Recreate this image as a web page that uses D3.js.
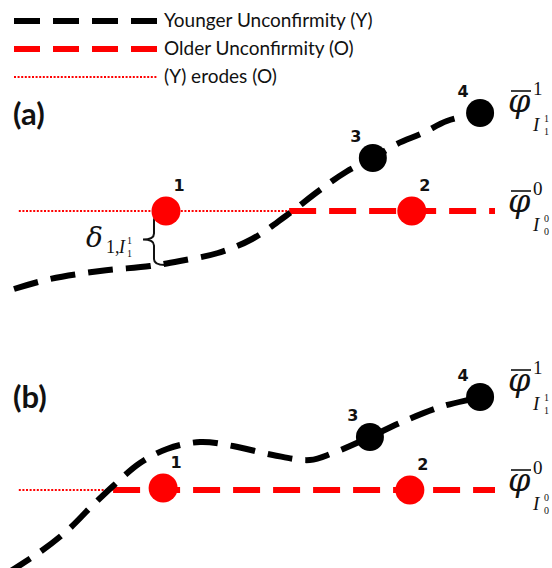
<!DOCTYPE html>
<html>
<head>
<meta charset="utf-8">
<script src="https://cdn.jsdelivr.net/npm/d3@7"></script>
<style>
  body { margin: 0; background: #fff; }
  svg { display: block; }
</style>
</head>
<body>
<figure style="margin:0"></figure>
<script>

var vmax = 552;
var hmax = 568;

// legend entries
var legendLabels = ["Younger Unconfirmity (Y)", "Older Unconfirmity (O)", "(Y) erodes (O)"];
var panelLabels = ["(a)", "(b)"];

// distance along the section (0-10) vs elevation relative to the older surface (O)
// panel (a)
var youngerA = [[0, -7.8], [0.75, -6.8], [1.79, -6.0], [2.83, -5.5], [3.45, -5.0], [4.24, -4.2],
                [4.95, -2.8], [5.65, -0.5], [6.36, 2.1], [6.90, 3.9], [7.46, 5.3], [7.96, 6.7],
                [8.50, 7.8], [9.00, 9.0], [9.69, 9.8], [9.94, 10.1]];
var erodedA = [0.1, 5.72];      // extent where (Y) cuts (O)
var olderA = [5.72, 10];
var olderPtsA = [{id: "1", x: 3.16, y: 0}, {id: "2", x: 8.27, y: 0}];
var youngerPtsA = [{id: "3", x: 7.46, y: 5.3}, {id: "4", x: 9.69, y: 9.8}];
var deltaDepth = -5.2;          // (Y) below point 1

// panel (b)
var youngerB = [[-0.1, -8.2], [0.54, -6.2], [1.12, -4.0], [1.58, -1.8], [2.06, 0.4], [2.62, 2.7],
                [3.18, 4.1], [3.87, 4.8], [4.55, 4.4], [5.38, 3.5], [6.15, 3.0], [6.63, 3.7],
                [7.40, 5.3], [8.02, 6.7], [8.86, 8.3], [9.69, 9.3], [9.94, 9.7]];
var erodedB = [0.1, 2.06];
var olderB = [2.06, 10];
var olderPtsB = [{id: "1", x: 3.10, y: 0.2}, {id: "2", x: 8.23, y: 0}];
var youngerPtsB = [{id: "3", x: 7.40, y: 5.3}, {id: "4", x: 9.69, y: 9.3}];

var svg = d3.select("figure").append("svg")
    .attr("width", vmax)
    .attr("height", hmax);

var x = d3.scaleLinear().domain([0, 10]).range([14, 495]);
var yA = d3.scaleLinear().domain([-10, 10]).range([311, 111]);
var yB = d3.scaleLinear().domain([-10, 10]).range([590, 390]);

var red = "#ff0000";
var ink = "#111";
var textFont = "Lato, 'Open Sans', sans-serif";
var mathFont = "'DejaVu Serif', 'Liberation Serif', serif";
var serif = "'Liberation Serif', serif";

// ---- legend
var legend = svg.append("g").attr("class", "legend");
var legendStyle = [
  {stroke: "#000", width: 6, dash: "26,13"},
  {stroke: red, width: 6, dash: "26,13"},
  {stroke: red, width: 2, dash: "2,1.6"}
];
var legendY = [21, 49, 77];
legendLabels.forEach(function(t, i) {
  legend.append("line")
      .attr("x1", 14).attr("x2", 157)
      .attr("y1", legendY[i]).attr("y2", legendY[i])
      .attr("stroke", legendStyle[i].stroke)
      .attr("stroke-width", legendStyle[i].width)
      .attr("stroke-dasharray", legendStyle[i].dash);
  legend.append("text")
      .attr("x", 164).attr("y", legendY[i] + 6)
      .attr("font-family", textFont)
      .attr("font-size", 19)
      .attr("fill", ink)
      .text(t);
});

var line = d3.line()
    .curve(d3.curveCatmullRom.alpha(0.5));

function drawPanel(g, y, label, labelY, younger, eroded, older, olderPts, youngerPts) {
  g.append("text")
      .attr("x", 13).attr("y", labelY)
      .attr("font-family", textFont)
      .attr("font-weight", "bold")
      .attr("font-size", 31)
      .attr("fill", ink)
      .text(label);

  // older unconformity: eroded (dotted) then preserved (dashed)
  g.append("line")
      .attr("x1", x(eroded[0])).attr("x2", x(eroded[1]))
      .attr("y1", y(0)).attr("y2", y(0))
      .attr("stroke", red).attr("stroke-width", 2)
      .attr("stroke-dasharray", "2,1.6");
  g.append("line")
      .attr("x1", x(older[0])).attr("x2", x(older[1]))
      .attr("y1", y(0)).attr("y2", y(0))
      .attr("stroke", red).attr("stroke-width", 6)
      .attr("stroke-dasharray", "27,13");

  // younger unconformity
  g.append("path")
      .attr("d", line(younger.map(function(d) { return [x(d[0]), y(d[1])]; })))
      .attr("fill", "none")
      .attr("stroke", "#000")
      .attr("stroke-width", 6)
      .attr("stroke-dasharray", "25,13");

  g.selectAll("circle.old")
      .data(olderPts).enter()
      .append("circle").attr("class", "old")
      .attr("cx", function(d) { return x(d.x); })
      .attr("cy", function(d) { return y(d.y); })
      .attr("r", 14.5)
      .attr("fill", red);
  g.selectAll("circle.young")
      .data(youngerPts).enter()
      .append("circle").attr("class", "young")
      .attr("cx", function(d) { return x(d.x); })
      .attr("cy", function(d) { return y(d.y); })
      .attr("r", 14)
      .attr("fill", "#000");

  // point numbers
  g.selectAll("text.oldlab")
      .data(olderPts).enter()
      .append("text").attr("class", "oldlab")
      .attr("x", function(d) { return x(d.x) + 13; })
      .attr("y", function(d) { return y(d.y) - 20; })
      .attr("text-anchor", "middle")
      .attr("font-family", "'DejaVu Sans', sans-serif")
      .attr("font-weight", "bold")
      .attr("font-size", 16)
      .attr("fill", ink)
      .text(function(d) { return d.id; });
  g.selectAll("text.younglab")
      .data(youngerPts).enter()
      .append("text").attr("class", "younglab")
      .attr("x", function(d) { return x(d.x) - 17; })
      .attr("y", function(d) { return y(d.y) - 16; })
      .attr("text-anchor", "middle")
      .attr("font-family", "'DejaVu Sans', sans-serif")
      .attr("font-weight", "bold")
      .attr("font-size", 16)
      .attr("fill", ink)
      .text(function(d) { return d.id; });

  // surface labels on the right
  phiLabel(g, 508, y(10) + 1, "1", "1");
  phiLabel(g, 508, y(0) + 1, "0", "0");
}

function phiLabel(g, x0, base, k, j) {
  g.append("line")
      .attr("x1", x0 + 3).attr("x2", x0 + 23)
      .attr("y1", base - 21).attr("y2", base - 21)
      .attr("stroke", ink).attr("stroke-width", 1.6);
  g.append("text")
      .attr("x", x0).attr("y", base)
      .attr("font-family", mathFont).attr("font-style", "italic")
      .attr("font-size", 32).attr("fill", ink)
      .text("\u03c6");
  g.append("text")
      .attr("x", x0 + 25).attr("y", base - 17)
      .attr("font-family", serif)
      .attr("font-size", 19).attr("fill", ink)
      .text(k);
  g.append("text")
      .attr("x", x0 + 25).attr("y", base + 19)
      .attr("font-family", serif).attr("font-style", "italic")
      .attr("font-size", 19).attr("fill", ink)
      .text("I");
  g.append("text")
      .attr("x", x0 + 36).attr("y", base + 10)
      .attr("font-family", serif)
      .attr("font-size", 10).attr("fill", ink)
      .text(j);
  g.append("text")
      .attr("x", x0 + 36).attr("y", base + 23)
      .attr("font-family", serif)
      .attr("font-size", 10).attr("fill", ink)
      .text(k);
}

// curly brace between (O) at point 1 and (Y) below it
function brace(bx, y1, y2, w) {
  var m = (y1 + y2) / 2, s = bx - w / 2, q = 6;
  return "M" + bx + "," + y1 +
    " Q" + s + "," + y1 + " " + s + "," + (y1 + q) +
    " L" + s + "," + (m - q) +
    " Q" + s + "," + m + " " + (bx - w) + "," + m +
    " Q" + s + "," + m + " " + s + "," + (m + q) +
    " L" + s + "," + (y2 - q) +
    " Q" + s + "," + y2 + " " + bx + "," + y2;
}

var gA = svg.append("g").attr("class", "panel-a");
var gB = svg.append("g").attr("class", "panel-b");

// brace goes under the points
gA.append("path")
    .attr("d", brace(x(olderPtsA[0].x) - 1, yA(0) + 3, yA(deltaDepth) + 2, 22))
    .attr("fill", "none").attr("stroke", ink).attr("stroke-width", 2);

drawPanel(gA, yA, panelLabels[0], 125, youngerA, erodedA, olderA, olderPtsA, youngerPtsA);
drawPanel(gB, yB, panelLabels[1], 408, youngerB, erodedB, olderB, olderPtsB, youngerPtsB);

// delta label
var dl = gA.append("g");
dl.append("text").attr("x", 86).attr("y", 247)
    .attr("font-family", mathFont).attr("font-style", "italic")
    .attr("font-size", 28).attr("fill", ink).text("\u03b4");
dl.append("text").attr("x", 106).attr("y", 253)
    .attr("font-family", serif)
    .attr("font-size", 18).attr("fill", ink)
    .text("1,");
dl.append("text").attr("x", 119).attr("y", 253)
    .attr("font-family", serif).attr("font-style", "italic")
    .attr("font-size", 18).attr("fill", ink).text("I");
dl.append("text").attr("x", 127).attr("y", 244)
    .attr("font-family", serif)
    .attr("font-size", 10).attr("fill", ink).text("1");
dl.append("text").attr("x", 127).attr("y", 257)
    .attr("font-family", serif)
    .attr("font-size", 10).attr("fill", ink).text("1");

</script>
</body>
</html>
